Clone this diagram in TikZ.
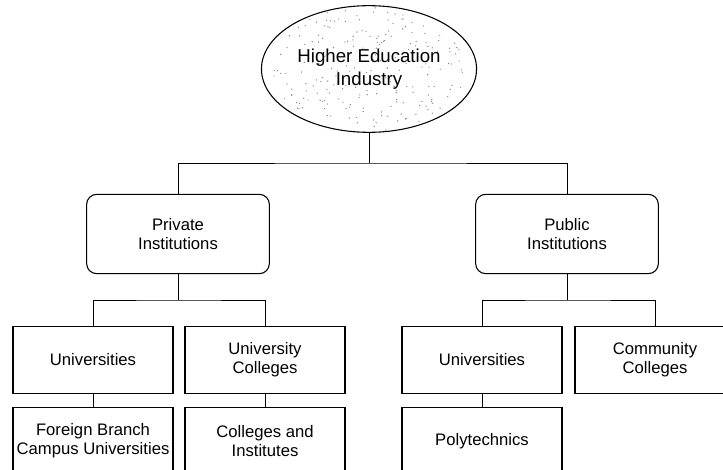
\documentclass[tikz,border=0pt]{standalone}
\usepackage{fontspec}
\setmainfont{Liberation Sans}
\usetikzlibrary{shapes.geometric}

\tikzset{
	inst/.style = {draw, line width = 0.8pt, align = center, minimum width = 120pt, minimum height = 50pt, inner sep = 2pt, font = \fontsize{12.5}{14.5}\selectfont},
	sector/.style = {inst, rounded corners = 7.5pt, minimum width = 137pt, minimum height = 59.5pt},
	link/.style = {line width = 0.7pt}
}

\begin{document}
\begin{tikzpicture}[x = 0.75pt, y = -0.75pt]

	% Page frame
	
	\useasboundingbox (0, 0) rectangle (723, 470);
	\clip (0, 0) rectangle (723, 470);
	
	% Stippled top ellipse
	
	\begin{scope}
		\clip (369, 69) ellipse (72pt and 47.5pt);
		\pgfmathsetseed{11}
		\foreach \i in {1, ..., 260}
			\fill [black!50] ({369 + 96 * rand}, {69 + 64 * rand}) circle (0.5pt);
	\end{scope}
	
	\node [ellipse, draw, line width = 0.8pt, minimum width = 144pt, minimum height = 95pt, align = center, font = \fontsize{14}{17.5}\selectfont] (industry) at (369, 69) {Higher Education\\Industry};
	
	% Sectors
	
	\node [sector] (private) at (178, 234) {Private\\Institutions};
	\node [sector] (public) at (567, 234) {Public\\Institutions};
	
	% Private side
	
	\node [inst] (privuni) at (93, 360) {Universities};
	\node [inst] (privcol) at (265, 360) {University\\Colleges};
	\node [inst] (foreign) at (93, 441) {Foreign Branch\\Campus Universities};
	\node [inst] (colinst) at (265, 441) {Colleges and\\Institutes};
	
	% Public side
	
	\node [inst] (pubuni) at (482, 360) {Universities};
	\node [inst] (community) at (655, 360) {Community\\Colleges};
	\node [inst] (poly) at (482, 441) {Polytechnics};
	
	% Branch points
	
	\coordinate (topfork) at (369, 163);
	\coordinate (privfork) at (178, 300);
	\coordinate (pubfork) at (567, 300);
	
	% Connectors
	
	\draw [link] (industry) -- (topfork);
	\draw [link] (private.north) |- (topfork) -| (public.north);
	
	\draw [link] (private) -- (privfork);
	\draw [link] (privuni.north) |- (privfork) -| (privcol.north);
	\draw [link] (privuni) -- (foreign);
	\draw [link] (privcol) -- (colinst);
	
	\draw [link] (public) -- (pubfork);
	\draw [link] (pubuni.north) |- (pubfork) -| (community.north);
	\draw [link] (pubuni) -- (poly);

\end{tikzpicture}
\end{document}
